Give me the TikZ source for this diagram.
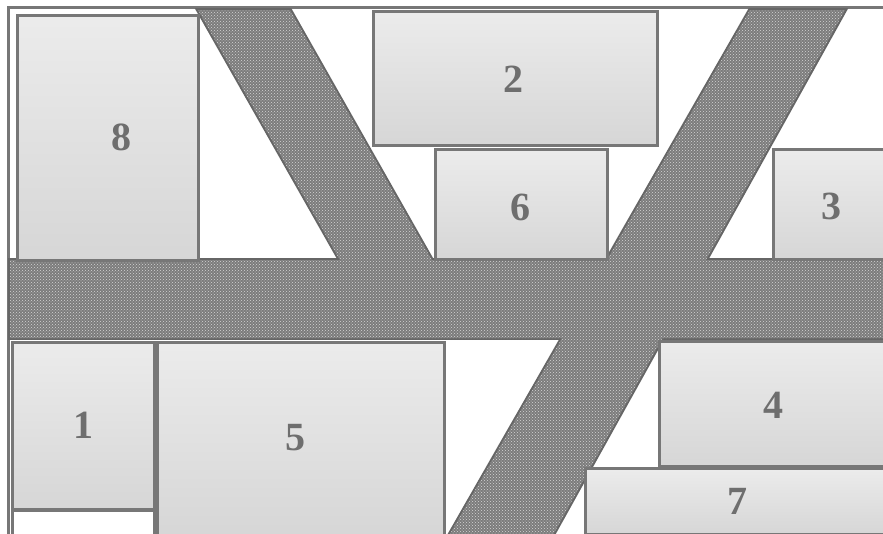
\documentclass[tikz,border=0pt]{standalone}
\usepackage{fontspec}
\setmainfont{Liberation Serif}
\usetikzlibrary{patterns}
\definecolor{boxline}{HTML}{777777}
\definecolor{bandline}{HTML}{666666}
\definecolor{bandfill}{HTML}{7C7C7C}
\definecolor{banddot}{HTML}{D6D6D6}
\definecolor{labelc}{HTML}{6E6E6E}
\pgfdeclareverticalshading{boxshade}{100bp}{rgb(0bp)=(0.90,0.90,0.90); rgb(12bp)=(0.86,0.86,0.86); rgb(25bp)=(0.84,0.84,0.84); rgb(55bp)=(0.89,0.89,0.89); rgb(100bp)=(0.965,0.965,0.965)}
\tikzset{
  box/.style={draw=boxline, line width=2.5pt, shading=boxshade, rectangle, inner sep=0pt, anchor=north west},
  whitebox/.style={draw=boxline, line width=2.5pt, fill=white, rectangle, inner sep=0pt, anchor=north west},
  frameline/.style={draw=boxline, line width=3pt},
  bandedge/.style={draw=bandline, line width=4pt, line join=miter},
  bandbody/.style={fill=bandfill, postaction={pattern=crosshatch dots, pattern color=banddot}},
  lbl/.style={text=labelc, font=\bfseries\fontsize{40}{40}\selectfont, inner sep=0pt}
}
\begin{document}
\begin{tikzpicture}[x=1pt,y=-1pt]
\useasboundingbox (0,0) rectangle (883,533);
\clip (0,0) rectangle (883,533);
\fill[white] (0,0) rectangle (883,533);
% outer frame
\draw[frameline] (8,7) rectangle (900,560);
% band: union outline, then one body path
\begin{scope}[nonzero rule]
\path[bandedge] (10,260) rectangle (900,338);
\path[bandedge] (198,10) -- (341,262) -- (433,262) -- (290,10) -- cycle;
\path[bandedge] (750,10) -- (435,560) -- (539,560) -- (845,10) -- cycle;
\path[bandbody] (10,260) rectangle (900,338)
  (198,10) -- (341,262) -- (433,262) -- (290,10) -- cycle
  (750,10) -- (435,560) -- (539,560) -- (845,10) -- cycle;
\end{scope}
% boxes
\node[box, minimum width=181pt, minimum height=245pt] (b8) at (16,14) {};
\node[box, minimum width=284pt, minimum height=134pt] (b2) at (372,10) {};
\node[box, minimum width=172pt, minimum height=110pt] (b6) at (434,148) {};
\node[box, minimum width=116pt, minimum height=110pt] (b3) at (772,148) {};
\node[box, minimum width=142pt, minimum height=167pt] (b1) at (11,341) {};
\node[box, minimum width=287pt, minimum height=194pt] (b5) at (156,341) {};
\node[box, minimum width=230pt, minimum height=125pt] (b4) at (658,340) {};
\node[box, minimum width=306pt, minimum height=66pt] (b7) at (584,467) {};
\node[whitebox, minimum width=142pt, minimum height=30pt] (bw) at (11,509) {};
% labels
\node[lbl] (l8) at (121,137) {8};
\node[lbl] (l2) at (513,79) {2};
\node[lbl] (l6) at (520,207) {6};
\node[lbl] (l3) at (831,206) {3};
\node[lbl] (l1) at (83,425) {1};
\node[lbl] (l5) at (295,438) {5};
\node[lbl] (l4) at (773,405) {4};
\node[lbl] (l7) at (737,501) {7};
\end{tikzpicture}
\end{document}
